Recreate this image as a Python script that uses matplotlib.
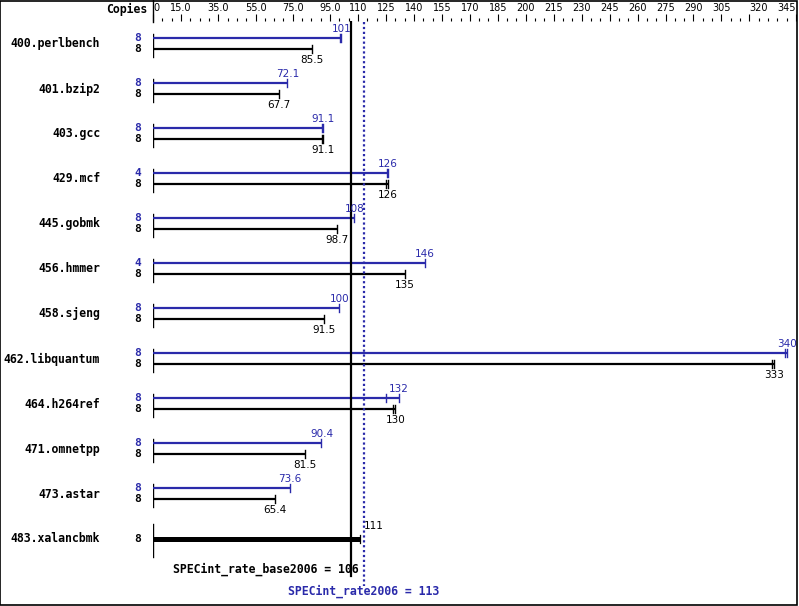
import numpy as np
from matplotlib import pyplot as plt
from matplotlib.patches import Rectangle
from matplotlib.lines import Line2D

# SPECint_rate2006 results
benchmarks = ['400.perlbench', '401.bzip2', '403.gcc', '429.mcf', '445.gobmk',
              '456.hmmer', '458.sjeng', '462.libquantum', '464.h264ref',
              '471.omnetpp', '473.astar', '483.xalancbmk']
peak = [101, 72.1, 91.1, 126, 108, 146, 100, 340, 132, 90.4, 73.6, 111]
base = [85.5, 67.7, 91.1, 126, 98.7, 135, 91.5, 333, 130, 81.5, 65.4, 111]
peak_copies = [8, 8, 8, 4, 8, 4, 8, 8, 8, 8, 8, 8]
base_copies = [8, 8, 8, 8, 8, 8, 8, 8, 8, 8, 8, 8]
peak_labels = ['101', '72.1', '91.1', '126', '108', '146', '100', '340', '132', '90.4', '73.6', '111']
base_labels = ['85.5', '67.7', '91.1', '126', '98.7', '135', '91.5', '333', '130', '81.5', '65.4', '111']
# extra run markers (other iterations)
peak_runs = [[100.3], [], [90.6], [125.6], [], [], [], [339], [125], [], [], []]
base_runs = [[], [], [90.6], [125], [], [], [], [332], [129], [], [], []]
base_score = 106
peak_score = 113

major_ticks = [0, 15, 35, 55, 75, 95, 110, 125, 140, 155, 170, 185, 200, 215, 230,
               245, 260, 275, 290, 305, 320, 345]
major_labels = ['0', '15.0', '35.0', '55.0', '75.0', '95.0'] + [str(t) for t in major_ticks[6:]]

blue = '#2a2aaa'
mono = 'DejaVu Sans Mono'

fig = plt.figure(figsize=(7.99, 6.06), dpi=100)
ax = fig.add_axes([153 / 799, 0, 643 / 799, (606 - 21) / 606])
ax.set_xlim(0, 345)
ax.set_ylim((606 - 44) / 45, (21 - 44) / 45)
for s in ax.spines.values():
    s.set_visible(False)
ax.yaxis.set_visible(False)
ax.xaxis.tick_top()
ax.set_xticks(major_ticks)
ax.set_xticklabels(major_labels, fontsize=7)
ax.set_xticks([t for t in np.arange(0, 346, 5) if t not in major_ticks], minor=True)
ax.tick_params(axis='x', which='major', length=5, width=0.8, pad=1, direction='out')
ax.tick_params(axis='x', which='minor', length=2.5, width=0.8, direction='out')
tl = ax.get_xticklabels()
tl[0].set_horizontalalignment('left')
tl[-1].set_horizontalalignment('right')
tl[-2].set_horizontalalignment('left')

n = len(benchmarks)
for i in range(n):
    yp = i - 0.14
    yb = i + 0.12
    cap = 0.09
    if i == n - 1:
        # single thick bar when base == peak
        ax.plot([0, base[i]], [i, i], color='black', lw=3.6, solid_capstyle='butt')
        ax.plot([base[i], base[i]], [i - cap, i + cap], color='black', lw=0.9)
        ax.plot([0, 0], [i - 0.33, i + 0.4], color='black', lw=1)
        ax.text(base[i] + 2, i - 0.28, base_labels[i], fontsize=7.5, ha='left', va='center')
        ax.text(-8, i, str(base_copies[i]), fontsize=8, family=mono, weight='bold',
                ha='center', va='center', clip_on=False)
    else:
        ax.plot([0, 0], [i - 0.22, i + 0.29], color='black', lw=1)
        ax.plot([0, peak[i]], [yp, yp], color=blue, lw=1.6, solid_capstyle='butt')
        ax.plot([0, base[i]], [yb, yb], color='black', lw=1.6, solid_capstyle='butt')
        for r in [peak[i]] + peak_runs[i]:
            ax.plot([r, r], [yp - cap, yp + cap], color=blue, lw=1)
        for r in [base[i]] + base_runs[i]:
            ax.plot([r, r], [yb - cap, yb + cap], color='black', lw=1)
        ax.text(peak[i], yp - 0.2, peak_labels[i], color=blue, fontsize=7.5, ha='center', va='center')
        ax.text(base[i], yb + 0.23, base_labels[i], color='black', fontsize=7.5, ha='center', va='center')
        ax.text(-8, yp, str(peak_copies[i]), color=blue, fontsize=8, family=mono,
                weight='bold', ha='center', va='center', clip_on=False)
        ax.text(-8, yb, str(base_copies[i]), color='black', fontsize=8, family=mono,
                weight='bold', ha='center', va='center', clip_on=False)
    ax.text(-28.4, i, benchmarks[i], fontsize=8.3, family=mono, weight='bold',
            ha='right', va='center', clip_on=False)

# overall score lines
ax.plot([base_score, base_score], [-0.49, 11.82], color='black', lw=1.6)
ax.plot([peak_score, peak_score], [-0.49, 12.04], color=blue, lw=1.6, linestyle=(0, (1, 1.2)))
ax.text(110.5, 11.67, 'SPECint_rate_base2006 = %d' % base_score, fontsize=8.3, family=mono,
        weight='bold', ha='right', va='center')
ax.text(peak_score, 12.16, 'SPECint_rate2006 = %d' % peak_score, fontsize=8.3, family=mono,
        weight='bold', color=blue, ha='center', va='center')

# header
fig.text(127 / 799, 1 - 9 / 606, 'Copies', fontsize=8.3, family=mono, weight='bold',
         ha='center', va='center')
fig.add_artist(Line2D([153 / 799, 153 / 799], [1, 1 - 22 / 606], color='black', lw=1))
fig.add_artist(Rectangle((0.0005, 0.001), 0.997, 0.997, fill=False, edgecolor='black', lw=1.2))

fig.savefig('out.png', dpi=100)
